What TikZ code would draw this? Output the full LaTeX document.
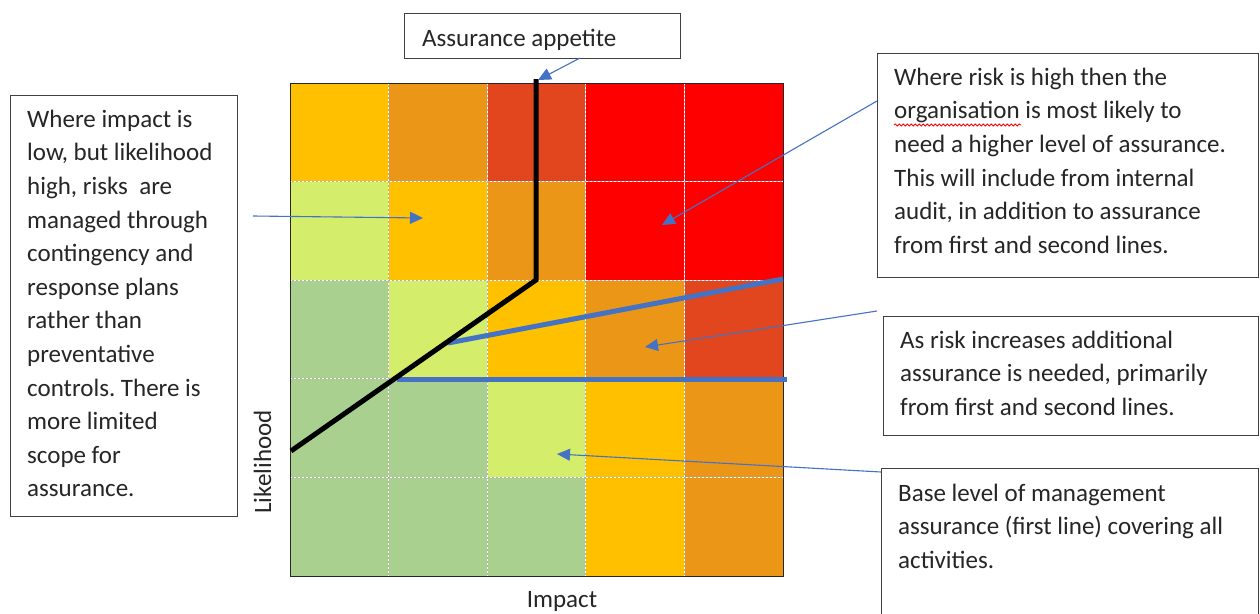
\documentclass[tikz,border=0pt]{standalone}
\usepackage{fontspec}
\setmainfont{Carlito}
\frenchspacing
\usetikzlibrary{arrows.meta,decorations.pathmorphing}
\definecolor{cY}{HTML}{FFC000}
\definecolor{cO}{HTML}{EB9616}
\definecolor{cR}{HTML}{E2461E}
\definecolor{cRed}{HTML}{FF0000}
\definecolor{cL}{HTML}{D4ED6B}
\definecolor{cG}{HTML}{A9D08E}
\definecolor{blueline}{HTML}{4472C4}
\definecolor{txtc}{HTML}{262626}
\tikzset{
  txt/.style={font=\fontsize{25}{33.6}\selectfont, text=txtc, inner sep=0pt, align=left, anchor=north west},
  lbl/.style={font=\fontsize{25}{33.6}\selectfont, text=txtc, inner sep=0pt},
  frame/.style={draw=black!75, line width=1.2pt, inner sep=0pt, anchor=north west, fill=white},
  conn/.style={draw=blueline, line width=1.1pt, -{Triangle[length=13pt,width=12pt]}},
  thickblue/.style={draw=blueline, line width=5pt},
  appline/.style={draw=black, line width=5pt, line join=miter},
  gridl/.style={draw=gray!60, line width=1pt},
  griddash/.style={draw=white, line width=1pt, dash pattern=on 2pt off 2pt},
}
\begin{document}
\begin{tikzpicture}[x=1pt,y=-1pt]
\clip (0,0) rectangle (1260,613);
\fill[white] (0,0) rectangle (1260,613);
% matrix cells
\foreach \c [count=\k from 0] in {cY,cO,cR,cRed,cRed, cL,cY,cO,cRed,cRed, cG,cL,cY,cO,cR, cG,cG,cL,cY,cO, cG,cG,cG,cY,cO}{
  \pgfmathtruncatemacro{\col}{mod(\k,5)}
  \pgfmathtruncatemacro{\row}{div(\k,5)}
  \fill[\c] ({290+\col*98.6},{83+\row*98.6}) rectangle ++(98.6,98.6);
}
\foreach \i in {1,...,4}{
  \draw[gridl] ({290+\i*98.6},83) -- ({290+\i*98.6},576);
  \draw[gridl] (290,{83+\i*98.6}) -- (783,{83+\i*98.6});
  \draw[griddash] ({290+\i*98.6},83) -- ({290+\i*98.6},576);
  \draw[griddash] (290,{83+\i*98.6}) -- (783,{83+\i*98.6});
}
\node[draw=black!85, line width=1.2pt, inner sep=0pt, minimum width=493pt, minimum height=493pt, anchor=north west] (grid) at (290,83) {};
% thick blue bands
\coordinate (b1s) at (448,343);
\coordinate (b1e) at (783,279);
\coordinate (b2s) at (397,379);
\coordinate (b2e) at (787,379);
\draw[thickblue] (b1s) -- (b1e);
\draw[thickblue] (b2s) -- (b2e);
% assurance appetite line
\coordinate (a1) at (291,451);
\coordinate (a2) at (536,280);
\coordinate (a3) at (536,79);
\draw[appline] (a1) -- (a2) -- (a3);
% boxes
\node[frame, minimum width=276pt, minimum height=45pt] (appbox) at (404,13) {};
\node[frame, minimum width=227pt, minimum height=421pt] (lbox) at (10,95) {};
\node[frame, minimum width=381pt, minimum height=224pt] (trbox) at (877,53) {};
\node[frame, minimum width=375pt, minimum height=119pt] (mrbox) at (883,316) {};
\node[frame, minimum width=377pt, minimum height=160pt] (brbox) at (881,468) {};
% texts
\node[lbl, anchor=base west] (apptxt) at (422,46) {Assurance appetite};
\node[txt] (ltxt) at (27,{127-23.52}) {\strut Where impact is\\low, but likelihood\\high, risks~ are\\managed through\\contingency and\\response plans\\rather than\\preventative\\controls. There is\\more limited\\scope for\\assurance.};
\node[txt] (trtxt) at (894,{85-23.52}) {\strut Where risk is high then the\\organisation is most likely to\\need a higher level of assurance.\\This will include from internal\\audit, in addition to assurance\\from first and second lines.};
\draw[red, line width=0.8pt, decorate, decoration={snake, amplitude=1.1pt, segment length=4pt}] (894,125) -- (1021,125);
\node[txt] (mrtxt) at (900,{348-23.52}) {\strut As risk increases additional\\assurance is needed, primarily\\from first and second lines.};
\node[txt] (brtxt) at (898,{501-23.52}) {\strut Base level of management\\assurance (first line) covering all\\activities.};
\node[lbl, anchor=base, rotate=90] (likel) at (271,462) {Likelihood};
\node[lbl, anchor=base] (impact) at (562,607) {Impact};
% connectors
\coordinate (appS) at (580,58);
\coordinate (appE) at (538,80);
\coordinate (lS) at (253,216);
\coordinate (lE) at (423,218);
\coordinate (trS) at (877,101);
\coordinate (trE) at (662,225);
\coordinate (mrS) at (877,311);
\coordinate (mrE) at (645,347);
\coordinate (brS) at (881,472);
\coordinate (brE) at (557,454);
\draw[conn] (appS) -- (appE);
\draw[conn] (lS) -- (lE);
\draw[conn] (trS) -- (trE);
\draw[conn] (mrS) -- (mrE);
\draw[conn] (brS) -- (brE);
\end{tikzpicture}
\end{document}
